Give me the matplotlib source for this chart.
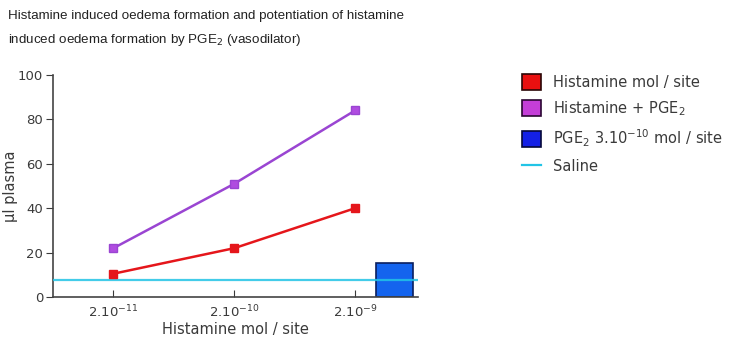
import matplotlib
matplotlib.use("Agg")
import matplotlib.pyplot as plt
from matplotlib.patches import Patch
from matplotlib.lines import Line2D

plt.rcParams['font.family'] = ['DejaVu Sans']

# doses of histamine (categorical positions on the x axis)
dose_labels = ['2.10$^{-11}$', '2.10$^{-10}$', '2.10$^{-9}$']
histamine = [10.5, 22, 40]
histamine_pge2 = [22, 51, 84]
pge2_alone = 15.3
saline = 7.7

legend_labels = ['Histamine mol / site', 'Histamine + PGE$_2$',
                 'PGE$_2$ 3.10$^{-10}$ mol / site', 'Saline']

red = '#e5161b'
purple = '#9a45d2'
blue = '#1464ee'
cyan = '#22c4e6'
txt = '#3a3a3a'

fig = plt.figure(figsize=(7.39, 3.45), dpi=100)
ax = fig.add_axes([0.0717, 0.139, 0.494, 0.644])

x = list(range(len(dose_labels)))
ax.bar(2.325, pge2_alone, width=0.31, color=blue, edgecolor='#0b1f5e',
       lw=1.2, zorder=2)
ax.axhline(saline, color=cyan, lw=1.6, alpha=0.85, zorder=3)
ax.plot(x, histamine, color=red, lw=1.8, marker='s', ms=6,
        mfc=red, mec=red, zorder=4)
ax.plot(x, histamine_pge2, color=purple, lw=1.8, marker='s', ms=6,
        mfc='#b04ce0', mec=purple, zorder=4)

ax.set_xlim(-0.5, 2.52)
ax.set_ylim(0, 100)
ax.set_yticks([0, 20, 40, 60, 80, 100])
ax.set_xticks(x)
ax.set_xticklabels(dose_labels)
ax.tick_params(axis='y', direction='out', length=5, labelsize=9.5,
               colors=txt, pad=2)
ax.tick_params(axis='x', direction='in', length=5, labelsize=9.5,
               colors=txt, pad=5)
for s in ['top', 'right']:
    ax.spines[s].set_visible(False)
for s in ['left', 'bottom']:
    ax.spines[s].set_color('#444444')
    ax.spines[s].set_linewidth(1.2)

ax.set_ylabel('µl plasma', fontsize=10.5, color=txt, labelpad=0)
ax.set_xlabel('Histamine mol / site', fontsize=10.5, color=txt, labelpad=1)

fig.text(0.011, 0.972, 'Histamine induced oedema formation and potentiation of histamine\n'
         'induced oedema formation by PGE$_2$ (vasodilator)',
         fontsize=9.6, family='Liberation Sans', va='top', ha='left',
         color='#222222', linespacing=1.9)

handles = [Patch(facecolor='#e81010', edgecolor='#2a0606', lw=1.2),
           Patch(facecolor='#c43ed8', edgecolor='#2a0632', lw=1.2),
           Patch(facecolor='#1420e6', edgecolor='#06083a', lw=1.2),
           Line2D([], [], color=cyan, lw=1.6)]
fig.legend(handles, legend_labels, loc='upper left',
           bbox_to_anchor=(0.7064, 0.786), frameon=False, fontsize=10.5,
           handlelength=1.3, handleheight=1.3, labelspacing=0.65,
           handletextpad=0.8, borderpad=0, borderaxespad=0, labelcolor=txt)

fig.savefig('out.png', dpi=100)
